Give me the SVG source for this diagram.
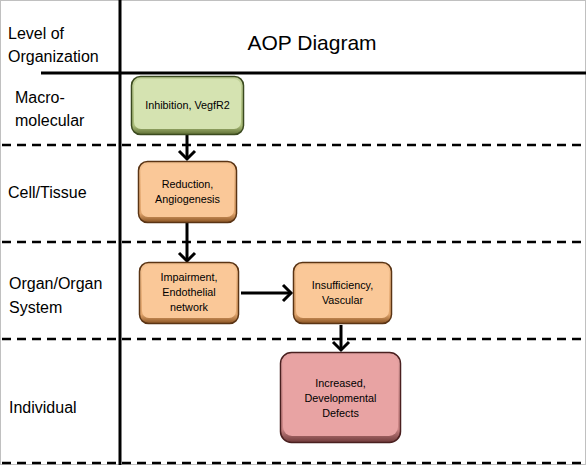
<svg xmlns="http://www.w3.org/2000/svg" width="586" height="465" viewBox="0 0 586 465">
<defs>
<style>
.lbl{font-family:"Liberation Sans",Arial,sans-serif;font-size:16px;fill:#000}
.nt{font-family:"Liberation Sans",Arial,sans-serif;font-size:10.8px;fill:#000;text-anchor:middle}
.dash{stroke:#000;stroke-width:2.5;stroke-dasharray:9 6;fill:none}
.solid{stroke:#000;stroke-width:3;fill:none}
.conn{stroke:#000;stroke-width:3;fill:none}
</style>
<marker id="chev" markerUnits="userSpaceOnUse" markerWidth="20" markerHeight="20" viewBox="-10 -10 20 20" refX="0" refY="0" orient="auto">
<path d="M-8,-8 L0,0 L-8,8" fill="none" stroke="#000" stroke-width="3"/>
</marker>
<linearGradient id="gG" x1="0" y1="0" x2="0" y2="1"><stop offset="0" stop-color="#c4d49c"/><stop offset="0.85" stop-color="#a9bb78"/><stop offset="1" stop-color="#5f6f35"/></linearGradient>
<linearGradient id="gO" x1="0" y1="0" x2="0" y2="1"><stop offset="0" stop-color="#f6c493"/><stop offset="0.85" stop-color="#e0a46c"/><stop offset="1" stop-color="#8a5423"/></linearGradient>
<linearGradient id="gR" x1="0" y1="0" x2="0" y2="1"><stop offset="0" stop-color="#e4a3a3"/><stop offset="0.85" stop-color="#c98484"/><stop offset="1" stop-color="#6f3a3a"/></linearGradient>
</defs>
<rect x="0.5" y="0.5" width="585" height="464" fill="#fff" stroke="#c0c0c0" stroke-width="1"/>

<g id="grid">
<line class="solid" x1="120" y1="0" x2="120" y2="465"/>
<line class="solid" x1="41" y1="73" x2="586" y2="73"/>
<line class="dash" x1="2" y1="145" x2="586" y2="145"/>
<line class="dash" x1="2" y1="242" x2="586" y2="242"/>
<line class="dash" x1="2" y1="339" x2="586" y2="339"/>
<line class="dash" x1="2" y1="463" x2="586" y2="463"/>
</g>

<g id="labels">
<text class="lbl" x="8" y="39">Level of</text>
<text class="lbl" x="8" y="62">Organization</text>
<text class="lbl" x="312" y="50" style="font-size:21px;text-anchor:middle">AOP Diagram</text>
<text class="lbl" x="15" y="103">Macro-</text>
<text class="lbl" x="15" y="126">molecular</text>
<text class="lbl" x="8" y="198">Cell/Tissue</text>
<text class="lbl" x="9" y="289">Organ/Organ</text>
<text class="lbl" x="9" y="313">System</text>
<text class="lbl" x="9" y="413">Individual</text>
</g>

<g id="connectors">
<line class="conn" x1="187" y1="135" x2="187" y2="159" marker-end="url(#chev)"/>
<line class="conn" x1="187" y1="223" x2="187" y2="261" marker-end="url(#chev)"/>
<line class="conn" x1="241" y1="293" x2="291" y2="293" marker-end="url(#chev)"/>
<line class="conn" x1="341" y1="325" x2="341" y2="350" marker-end="url(#chev)"/>
</g>

<g id="n1">
<rect x="131.5" y="76.5" width="112" height="58" rx="9" fill="url(#gG)" stroke="#3b4a1f" stroke-width="1.5"/>
<rect x="134" y="79" width="107" height="50" rx="7" fill="#d5e3b1"/>
<text class="nt" x="187.5" y="109">Inhibition, VegfR2</text>
</g>

<g id="n2">
<rect x="138.5" y="161.5" width="98" height="61" rx="9" fill="url(#gO)" stroke="#5a3414" stroke-width="1.5"/>
<rect x="141" y="164" width="93" height="53" rx="7" fill="#fac898"/>
<text class="nt" x="187.5" y="188">Reduction,</text>
<text class="nt" x="187.5" y="203">Angiogenesis</text>
</g>

<g id="n3">
<rect x="139.5" y="262.5" width="99" height="61" rx="9" fill="url(#gO)" stroke="#5a3414" stroke-width="1.5"/>
<rect x="142" y="265" width="94" height="53" rx="7" fill="#fac898"/>
<text class="nt" x="189" y="281">Impairment,</text>
<text class="nt" x="189" y="296">Endothelial</text>
<text class="nt" x="189" y="311">network</text>
</g>

<g id="n4">
<rect x="293.5" y="262.5" width="98" height="61" rx="9" fill="url(#gO)" stroke="#5a3414" stroke-width="1.5"/>
<rect x="296" y="265" width="93" height="53" rx="7" fill="#fac898"/>
<text class="nt" x="342.5" y="289">Insufficiency,</text>
<text class="nt" x="342.5" y="304">Vascular</text>
</g>

<g id="n5">
<rect x="280.5" y="352.5" width="120" height="90" rx="11" fill="url(#gR)" stroke="#4a2020" stroke-width="1.5"/>
<rect x="283" y="355" width="115" height="81" rx="9" fill="#e8a3a3"/>
<text class="nt" x="340.5" y="387">Increased,</text>
<text class="nt" x="340.5" y="402">Developmental</text>
<text class="nt" x="340.5" y="417">Defects</text>
</g>
</svg>
